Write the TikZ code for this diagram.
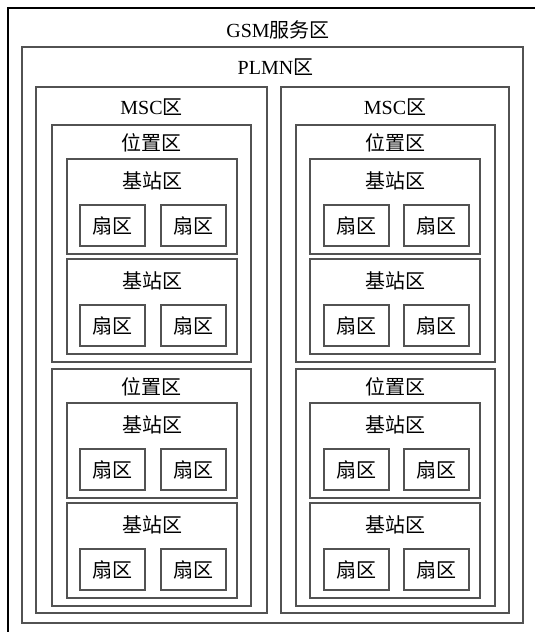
\documentclass[tikz,border=0pt]{standalone}
\usepackage{fontspec}
\setmainfont{Liberation Serif}
\newfontfamily\zh{Noto Sans CJK SC}
\newcommand{\bigtext}{\fontsize{20}{24}\selectfont}

\begin{document}
\begin{tikzpicture}[x=1pt, y=-1pt, font=\bigtext,
  zone/.style={draw=black!68, line width=1.2pt, inner sep=0pt, outer sep=0pt},
  tag/.style={anchor=center, inner sep=0pt},
  gsm/.style={zone, draw=black, minimum width=540, minimum height=640,
              label={[tag, yshift=-22pt]north:GSM{\zh 服务区}}},
  plmn/.style={zone, minimum width=501, minimum height=576,
               label={[tag, yshift=-20pt, xshift=3pt]north:PLMN{\zh 区}}},
  msc/.style={zone, minimum height=526,
              label={[tag, yshift=-20pt]north:MSC{\zh 区}}},
  lac/.style={zone, minimum width=199, minimum height=237,
              label={[tag, yshift=-18pt]north:{\zh 位置区}}},
  bts/.style={zone, minimum width=170, minimum height=95,
              label={[tag, yshift=-22pt]north:{\zh 基站区}}},
  sector/.style={zone, minimum width=65, minimum height=41, font=\bigtext\zh}
]
\clip (0,0) rectangle (535,632);

% Service area and network
\node[gsm] (gsm) at (278,328) {};
\node[plmn] (plmn) at (272.5,335) {};

% MSC areas
\node[msc, minimum width=231] (mscA) at (151.5,350) {};
\node[msc, minimum width=228] (mscB) at (395,350) {};

% Location areas
\node[lac] (lacA1) at (151.5,243.5) {};
\node[lac] (lacA2) at (151.5,487.5) {};
\node[lac] (lacB1) at (395.5,243.5) {};
\node[lac] (lacB2) at (395.5,487.5) {};

% Base station areas - left
\node[bts] (btsA1) at (152,206.5) {};
\node[bts] (btsA2) at (152,306.5) {};
\node[bts] (btsA3) at (152,450.5) {};
\node[bts] (btsA4) at (152,550.5) {};

% Base station areas - right
\node[bts] (btsB1) at (395,206.5) {};
\node[bts] (btsB2) at (395,306.5) {};
\node[bts] (btsB3) at (395,450.5) {};
\node[bts] (btsB4) at (395,550.5) {};

% Sectors - left
\node[sector] (secA11) at (112.5,225.5) {扇区};
\node[sector] (secA12) at (193.5,225.5) {扇区};
\node[sector] (secA21) at (112.5,325.5) {扇区};
\node[sector] (secA22) at (193.5,325.5) {扇区};
\node[sector] (secA31) at (112.5,469.5) {扇区};
\node[sector] (secA32) at (193.5,469.5) {扇区};
\node[sector] (secA41) at (112.5,569.5) {扇区};
\node[sector] (secA42) at (193.5,569.5) {扇区};

% Sectors - right
\node[sector] (secB11) at (356.5,225.5) {扇区};
\node[sector] (secB12) at (436.5,225.5) {扇区};
\node[sector] (secB21) at (356.5,325.5) {扇区};
\node[sector] (secB22) at (436.5,325.5) {扇区};
\node[sector] (secB31) at (356.5,469.5) {扇区};
\node[sector] (secB32) at (436.5,469.5) {扇区};
\node[sector] (secB41) at (356.5,569.5) {扇区};
\node[sector] (secB42) at (436.5,569.5) {扇区};

\end{tikzpicture}
\end{document}
